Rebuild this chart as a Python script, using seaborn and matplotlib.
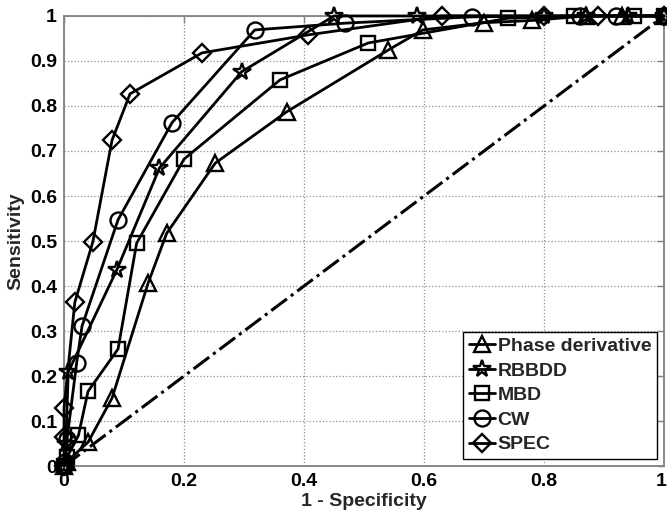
import matplotlib
matplotlib.use('Agg')
import matplotlib.pyplot as plt
import matplotlib.transforms as mtransforms
import numpy as np
import pandas as pd
import seaborn as sns

# ROC points (1 - specificity, sensitivity)
phase_fpr = [0, 0.005, 0.04, 0.08, 0.14, 0.171, 0.252, 0.371, 0.54, 0.598, 0.70, 0.78, 0.87, 0.93, 1.0]
phase_tpr = [0, 0.01, 0.053, 0.151, 0.406, 0.517, 0.673, 0.787, 0.924, 0.969, 0.985, 0.99, 1.0, 1.0, 1.0]

rbbdd_fpr = [0, 0.003, 0.007, 0.088, 0.159, 0.296, 0.45, 0.588, 0.80, 0.87, 0.94, 1.0]
rbbdd_tpr = [0, 0.05, 0.209, 0.436, 0.662, 0.876, 1.0, 1.0, 1.0, 1.0, 1.0, 1.0]

mbd_fpr = [0, 0.005, 0.024, 0.04, 0.09, 0.121, 0.20, 0.36, 0.507, 0.74, 0.85, 0.95, 1.0]
mbd_tpr = [0, 0.02, 0.068, 0.166, 0.26, 0.495, 0.682, 0.858, 0.94, 0.995, 1.0, 1.0, 1.0]

cw_fpr = [0, 0.002, 0.005, 0.021, 0.03, 0.09, 0.18, 0.318, 0.468, 0.68, 0.86, 0.92, 1.0]
cw_tpr = [0, 0.01, 0.06, 0.229, 0.311, 0.547, 0.763, 0.969, 0.984, 0.998, 1.0, 1.0, 1.0]

spec_fpr = [0, 0, 0, 0.018, 0.048, 0.08, 0.11, 0.23, 0.407, 0.63, 0.80, 0.89, 1.0]
spec_tpr = [0, 0.065, 0.13, 0.364, 0.498, 0.724, 0.827, 0.918, 0.958, 1.0, 1.0, 1.0, 1.0]

methods = ['Phase derivative', 'RBBDD', 'MBD', 'CW', 'SPEC']
method_markers = {'Phase derivative': '^', 'RBBDD': '*', 'MBD': 's', 'CW': 'o', 'SPEC': 'D'}

x_ticks = [0, 0.2, 0.4, 0.6, 0.8, 1]
x_tick_labels = ['0', '0.2', '0.4', '0.6', '0.8', '1']
y_ticks = [0, 0.1, 0.2, 0.3, 0.4, 0.5, 0.6, 0.7, 0.8, 0.9, 1]
y_tick_labels = ['0', '0.1', '0.2', '0.3', '0.4', '0.5', '0.6', '0.7', '0.8', '0.9', '1']

curves = [(phase_fpr, phase_tpr), (rbbdd_fpr, rbbdd_tpr), (mbd_fpr, mbd_tpr),
          (cw_fpr, cw_tpr), (spec_fpr, spec_tpr)]
frames = []
for name, (fx, ty) in zip(methods, curves):
    frames.append(pd.DataFrame({'fpr': fx, 'tpr': ty, 'method': name}))
df = pd.concat(frames, ignore_index=True)

sns.set_style('white')
plt.rcParams['font.family'] = ['Liberation Sans', 'DejaVu Sans']
plt.rcParams['font.weight'] = 'bold'

fig = plt.figure(figsize=(6.67, 5.15), dpi=100)
ax = fig.add_axes([0.096, 0.095, 0.8995, 0.874])

# chance line
ax.plot([0, 1], [0, 1], color='black', linestyle='-.', linewidth=2.2, zorder=2)

sns.lineplot(
    data=df, x='fpr', y='tpr', style='method', style_order=methods,
    markers=method_markers, dashes=False, sort=False, estimator=None,
    color='black', linewidth=2.0, markersize=11.5,
    markerfacecolor='none', markeredgecolor='black', markeredgewidth=1.7,
    legend=False, ax=ax, clip_on=False, zorder=3,
)

# fix marker sizes per glyph shape
for line in ax.lines[1:]:
    m = line.get_marker()
    if m == 'D':
        line.set_markersize(9)
    elif m == '*':
        line.set_markersize(13)
    elif m == 's':
        line.set_markersize(10)

ax.set_xlim(0, 1)
ax.set_ylim(0, 1)
ax.set_xticks(x_ticks)
ax.set_xticklabels(x_tick_labels)
ax.set_yticks(y_ticks)
ax.set_yticklabels(y_tick_labels)
ax.tick_params(direction='in', length=5, width=1, colors='#808080',
               labelcolor='black', labelsize=14, top=True, right=True, pad=5)
ax.grid(True, linestyle=':', color='#909090', linewidth=0.9)
for s in ax.spines.values():
    s.set_color('#808080')
    s.set_linewidth(1.3)

# keep the last x label inside the canvas
last = ax.get_xticklabels()[-1]
last.set_transform(last.get_transform() +
                   mtransforms.ScaledTranslation(-3 / 100, 0, fig.dpi_scale_trans))

ax.set_xlabel('1 - Specificity', fontsize=14, fontweight='bold', labelpad=2)
ax.set_ylabel('Sensitivity', fontsize=14, fontweight='bold', labelpad=4)

handles = ax.lines[1:6]
leg = ax.legend(handles, methods, loc='lower right', fontsize=14, frameon=True,
                fancybox=False, edgecolor='black', framealpha=1, handlelength=1.35,
                handletextpad=0.15, borderaxespad=0.35, borderpad=0.3, labelspacing=0.36)
leg.get_frame().set_linewidth(1.0)
for t in leg.get_texts():
    t.set_fontweight('bold')

fig.savefig('out.png', dpi=100)
